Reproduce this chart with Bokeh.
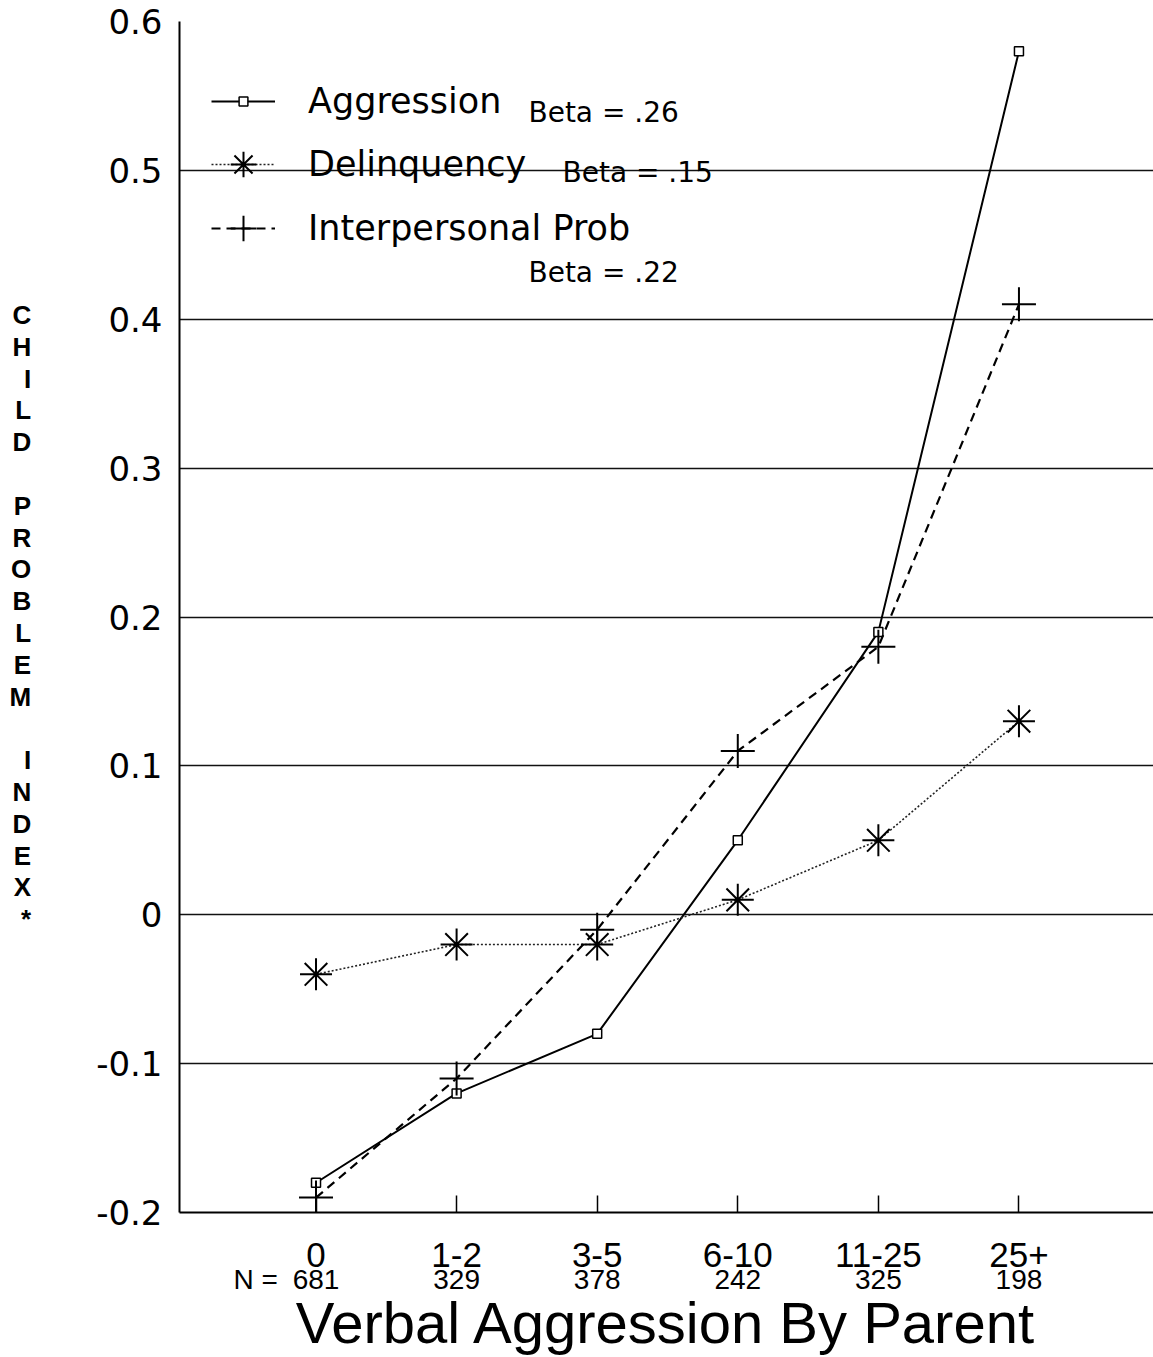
from bokeh.plotting import figure
from bokeh.models import (Range1d, FixedTicker, Label, Legend, LegendItem, ColumnDataSource,
                          LinearAxis)
from bokeh.embed import file_html
from bokeh.resources import INLINE

# ---- data ----
categories = ["0", "1-2", "3-5", "6-10", "11-25", "25+"]
n_counts = ["681", "329", "378", "242", "325", "198"]
n_prefix = "N ="
aggression = [-0.18, -0.12, -0.08, 0.05, 0.19, 0.58]
delinquency = [-0.04, -0.02, -0.02, 0.01, 0.05, 0.13]
interpersonal = [-0.19, -0.11, -0.01, 0.11, 0.18, 0.41]
y_ticks = [-0.2, -0.1, 0.0, 0.1, 0.2, 0.3, 0.4, 0.5, 0.6]
y_tick_labels = ["-0.2", "-0.1", "0", "0.1", "0.2", "0.3", "0.4", "0.5", "0.6"]
series_names = ["Aggression", "Delinquency", "Interpersonal Prob"]
betas = ["Beta = .26", "Beta = .15", "Beta = .22"]
y_title_words = ["CHILD", "PROBLEM", "INDEX*"]
x_title = "Verbal Aggression By Parent"

xpos = list(range(len(categories)))
src = ColumnDataSource(dict(x=xpos, agg=aggression, delq=delinquency, inter=interpersonal))

p = figure(width=1153, height=1357, output_backend="svg", toolbar_location=None,
           x_range=Range1d(-0.971, 5.957), y_range=Range1d(-0.2, 0.6),
           min_border_left=179, min_border_right=0, min_border_top=21, min_border_bottom=145)
p.outline_line_color = None
p.background_fill_color = "white"

# grid
p.xgrid.grid_line_color = None
p.ygrid.ticker = FixedTicker(ticks=y_ticks)
p.ygrid.grid_line_color = "#111111"
p.ygrid.grid_line_width = 1.7

# y axis
p.yaxis.ticker = FixedTicker(ticks=y_ticks)
p.yaxis.major_label_overrides = {t: l for t, l in zip(y_ticks, y_tick_labels)}
p.yaxis.major_tick_in = 0
p.yaxis.major_tick_out = 0
p.yaxis.minor_tick_in = 0
p.yaxis.minor_tick_out = 0
p.yaxis.axis_line_width = 2
p.yaxis.axis_line_color = "black"
p.yaxis.major_label_standoff = 17
p.yaxis.major_label_text_font = "DejaVu Sans"
p.yaxis.major_label_text_font_size = "34px"
p.yaxis.major_label_text_color = "black"
p.yaxis.axis_label = "\n\n".join("\n".join(list(w)) for w in y_title_words)
p.yaxis.axis_label_orientation = "horizontal"
p.yaxis.axis_label_text_font = "Liberation Sans"
p.yaxis.axis_label_text_font_size = "26px"
p.yaxis.axis_label_text_font_style = "bold"
p.yaxis.axis_label_text_line_height = 1.06
p.yaxis.axis_label_text_color = "black"
p.yaxis.axis_label_standoff = 62

# x axis (categories)
xa = p.xaxis[0]
xa.ticker = FixedTicker(ticks=xpos)
xa.major_label_overrides = {i: c for i, c in zip(xpos, categories)}
xa.major_tick_in = 17
xa.major_tick_out = 0
xa.major_tick_line_width = 1.5
xa.major_tick_line_color = "black"
xa.minor_tick_in = 0
xa.minor_tick_out = 0
xa.axis_line_width = 2
xa.axis_line_color = "black"
xa.major_label_standoff = 30
xa.major_label_text_font = "Liberation Sans"
xa.major_label_text_font_size = "35px"
xa.major_label_text_color = "black"

# second axis below: sample sizes, and the x title
n_tick_pos = [-0.43] + xpos
n_tick_text = [n_prefix] + n_counts
na = LinearAxis(ticker=FixedTicker(ticks=n_tick_pos),
                major_label_overrides={t: s for t, s in zip(n_tick_pos, n_tick_text)},
                axis_line_color=None, major_tick_in=0, major_tick_out=0,
                minor_tick_in=0, minor_tick_out=0, major_label_standoff=-6,
                major_label_text_font="Liberation Sans", major_label_text_font_size="28px",
                major_label_text_color="black",
                axis_label=x_title, axis_label_text_font="Liberation Sans",
                axis_label_text_font_size="58px", axis_label_text_font_style="normal",
                axis_label_text_color="black", axis_label_standoff=-8)
p.add_layout(na, "below")

# series
r_agg_line = p.line("x", "agg", source=src, line_color="black", line_width=2)
r_agg_pts = p.scatter("x", "agg", source=src, marker="square", size=9, fill_color="white",
                      line_color="black", line_width=1.5)
r_int_line = p.line("x", "inter", source=src, line_color="black", line_width=2.2, line_dash="9 6")
r_int_pts = p.scatter("x", "inter", source=src, marker="cross", size=34, line_color="black", line_width=2)
r_del_line = p.line("x", "delq", source=src, line_color="#222222", line_width=1.6, line_dash="2 2")
r_del_pts = p.scatter("x", "delq", source=src, marker="asterisk", size=32, line_color="black", line_width=2)

# legends (one per entry so the marker sizes can differ)
legend_specs = [
    (series_names[0], [r_agg_line, r_agg_pts], 64, 22, (32, 1091)),
    (series_names[1], [r_del_line, r_del_pts], 64, 64, (32, 1016)),
    (series_names[2], [r_int_line, r_int_pts], 64, 64, (32, 952)),
]
for name, rends, gw, gh, loc in legend_specs:
    lg = Legend(items=[LegendItem(label=name, renderers=rends)], location=loc,
                glyph_width=gw, glyph_height=gh, label_height=gh,
                label_standoff=33, padding=0, margin=0, spacing=0,
                border_line_color=None, background_fill_alpha=0,
                label_text_font="DejaVu Sans", label_text_font_size="35px",
                label_text_color="black")
    p.add_layout(lg)

# beta annotations
beta_pos = [(1.511, 0.5389), (1.753, 0.4986), (1.511, 0.4314)]
for txt, (bx, by) in zip(betas, beta_pos):
    p.add_layout(Label(x=bx, y=by, text=txt, text_align="left", text_baseline="middle",
                       text_font="DejaVu Sans", text_font_size="28px", text_color="black"))

open("out.html", "w").write(file_html(p, INLINE))
